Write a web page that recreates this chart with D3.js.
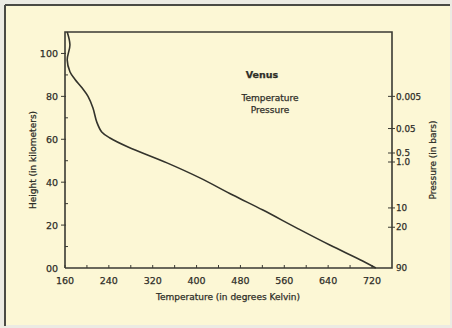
<!DOCTYPE html>
<html>
<head>
<meta charset="utf-8">
<script src="https://cdn.jsdelivr.net/npm/d3@7"></script>
<style>
  body { margin: 0; background: #ecebe3; }
  svg { display: block; }
  text { font-family: "DejaVu Sans", sans-serif; fill: #2e2e28; stroke: #2e2e28; stroke-width: 0.25; }
</style>
</head>
<body>
<svg id="chart" width="452" height="328"></svg>
<script>
// temperature profile (height km, temperature K)
const heights = [110, 104, 97, 91.5, 88, 84, 80, 74.6, 68, 63.4, 60.6, 56.4, 49, 42, 34, 27, 18.6, 10.7, 3.3, 0];
const temps   = [164, 169, 164, 169, 178, 191, 202, 211, 218, 227, 242, 275, 346, 406, 466, 521, 583, 643, 703, 727];

const xTickLabels = [160, 240, 320, 400, 480, 560, 640, 720];
const yTickLabels = [0, 20, 40, 60, 80, 100];
const yMinorTicks = [10, 30, 50, 70, 90];
// pressure labels placed at heights along the right axis
const pressureLabels = ["0.005", "0.05", "0.5", "1.0", "10", "20", "90"];
const pressureHeights = [80, 65, 53.6, 49.4, 28, 19, 0];

const svg = d3.select('#chart');

// paper frame
svg.append('rect').attr('x', 4).attr('y', 5).attr('width', 446).attr('height', 320).attr('fill', '#fcf7d5');
svg.append('line').attr('x1', 5).attr('y1', 5).attr('x2', 450).attr('y2', 5).attr('stroke', '#4a4a44').attr('stroke-width', 2);
svg.append('line').attr('x1', 5).attr('y1', 5).attr('x2', 5).attr('y2', 326).attr('stroke', '#4a4a44').attr('stroke-width', 2);

const x = d3.scaleLinear().domain([160, 720]).range([65, 372]);
const y = d3.scaleLinear().domain([0, 110]).range([268, 32]);
const x0 = 65, x1 = 392, yTop = 32, yBot = 268;

const g = svg.append('g');

// plot box
g.append('path')
  .attr('d', `M${x0},${yBot}V${yTop}H${x1}V${yBot}H${x0}`)
  .attr('fill', 'none').attr('stroke', '#3a3a33').attr('stroke-width', 1.6);

// bottom ticks every 40 K
const bottomTicks = d3.range(160, 760, 40);
g.selectAll('.bt').data(bottomTicks).enter().append('line')
  .attr('x1', d => x(d)).attr('x2', d => x(d))
  .attr('y1', yBot).attr('y2', yBot - 3)
  .attr('stroke', '#3a3a33').attr('stroke-width', 1);

g.selectAll('.xl').data(xTickLabels).enter().append('text')
  .attr('x', d => x(d)).attr('y', 284)
  .attr('text-anchor', 'middle').attr('font-size', 9.5)
  .text(d => d);

// left axis ticks
g.selectAll('.yt').data(yTickLabels.filter(d => d > 0)).enter().append('line')
  .attr('x1', x0 - 4).attr('x2', x0 + 1)
  .attr('y1', d => y(d)).attr('y2', d => y(d))
  .attr('stroke', '#3a3a33').attr('stroke-width', 1);
g.selectAll('.ym').data(yMinorTicks).enter().append('line')
  .attr('x1', x0).attr('x2', x0 + 3)
  .attr('y1', d => y(d)).attr('y2', d => y(d))
  .attr('stroke', '#3a3a33').attr('stroke-width', 1);

g.selectAll('.yl').data(yTickLabels).enter().append('text')
  .attr('x', 58).attr('y', d => y(d) + 3.5)
  .attr('text-anchor', 'end').attr('font-size', 9.5)
  .text(d => d === 0 ? '00' : d);

// right axis, pressure
g.selectAll('.pt').data(pressureHeights.filter(d => d > 0)).enter().append('line')
  .attr('x1', x1 - 4).attr('x2', x1 + 3)
  .attr('y1', d => y(d)).attr('y2', d => y(d))
  .attr('stroke', '#3a3a33').attr('stroke-width', 1);

g.selectAll('.pl').data(pressureLabels).enter().append('text')
  .attr('x', 396).attr('y', (d, i) => y(pressureHeights[i]) + 3.2)
  .attr('font-size', 8.8)
  .text(d => d);

// the temperature curve
const pts = heights.map((h, i) => [temps[i], h]);
g.append('path')
  .datum(pts)
  .attr('d', d3.line().x(d => x(d[0])).y(d => y(d[1])).curve(d3.curveCatmullRom.alpha(0.5)))
  .attr('fill', 'none').attr('stroke', '#33332c').attr('stroke-width', 1.6);

// titles
g.append('text').attr('x', 262).attr('y', 78).attr('text-anchor', 'middle')
  .attr('font-size', 9.5).attr('font-weight', 'bold').text('Venus');
g.append('text').attr('x', 270).attr('y', 101).attr('text-anchor', 'middle')
  .attr('font-size', 9).text('Temperature');
g.append('text').attr('x', 270).attr('y', 113).attr('text-anchor', 'middle')
  .attr('font-size', 9).text('Pressure');

g.append('text').attr('x', 228).attr('y', 300).attr('text-anchor', 'middle')
  .attr('font-size', 9).text('Temperature (in degrees Kelvin)');
g.append('text').attr('transform', 'translate(36,160) rotate(-90)').attr('text-anchor', 'middle')
  .attr('font-size', 9).text('Height (in kilometers)');
g.append('text').attr('transform', 'translate(436,160) rotate(-90)').attr('text-anchor', 'middle')
  .attr('font-size', 9).text('Pressure (in bars)');
</script>
</body>
</html>
